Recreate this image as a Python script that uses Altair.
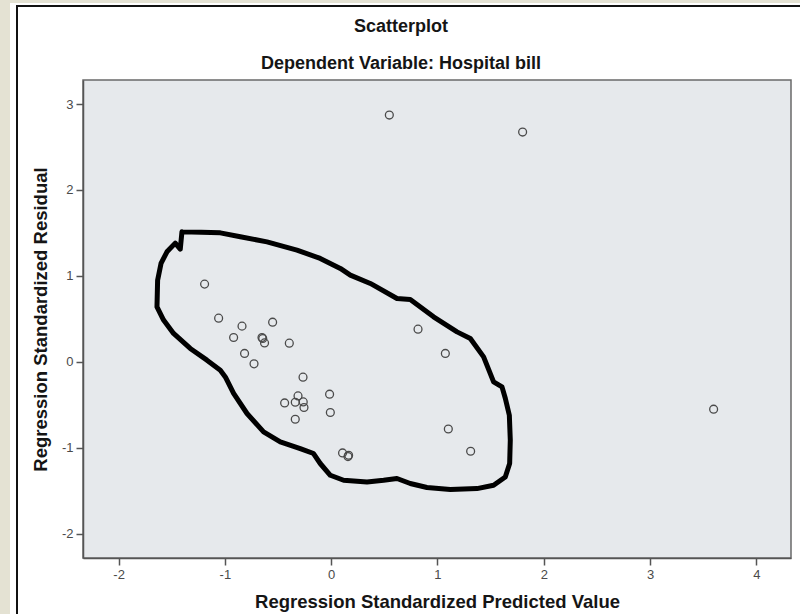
import altair as alt
import pandas as pd

# ---- data ----
x_pred = [0.547, 1.801, 3.598, -1.191, -1.059, -0.839, -0.918, -0.651, -0.644, -0.627,
          -0.551, -0.394, -0.815, -0.726, -0.265, -0.312, -0.438, -0.338, -0.263, -0.256,
          -0.338, -0.015, -0.008, 0.107, 0.164, 0.158, 0.817, 1.074, 1.102, 1.312]
y_resid = [2.872, 2.674, -0.552, 0.904, 0.508, 0.415, 0.283, 0.283, 0.271, 0.220,
           0.461, 0.217, 0.097, -0.024, -0.179, -0.397, -0.479, -0.471, -0.467, -0.532,
           -0.669, -0.377, -0.590, -1.061, -1.088, -1.103, 0.380, 0.097, -0.782, -1.041]

# hand-drawn outline (in data units)
contour_x = [-1.404, -1.043, -0.855, -0.604, -0.322, -0.103, 0.086, 0.180, 0.368, 0.619,
             0.744, 0.963, 1.184, 1.309, 1.434, 1.528, 1.607, 1.638, 1.676, 1.685,
             1.679, 1.638, 1.528, 1.372, 1.121, 0.901, 0.744, 0.619, 0.493, 0.337,
             0.117, -0.008, -0.103, -0.166, -0.291, -0.479, -0.636, -0.792, -0.918, -0.996,
             -1.043, -1.169, -1.326, -1.483, -1.577, -1.639, -1.633, -1.601, -1.545, -1.467,
             -1.420, -1.404]
contour_y = [1.513, 1.501, 1.455, 1.396, 1.300, 1.203, 1.087, 1.009, 0.912, 0.737,
             0.726, 0.523, 0.348, 0.271, 0.057, -0.234, -0.292, -0.424, -0.622, -0.913,
             -1.184, -1.341, -1.437, -1.476, -1.487, -1.464, -1.417, -1.359, -1.379, -1.399,
             -1.379, -1.321, -1.184, -1.068, -1.010, -0.933, -0.816, -0.602, -0.369, -0.176,
             -0.098, 0.019, 0.155, 0.330, 0.485, 0.639, 0.950, 1.145, 1.280, 1.381,
             1.311, 1.513]

x_ticks = [-2, -1, 0, 1, 2, 3, 4]
y_ticks = [-2, -1, 0, 1, 2, 3]
x_domain = [-2.335, 4.326]
y_domain = [-2.284, 3.28]

chart_title = ["Scatterplot"]
chart_subtitle = ["Dependent Variable: Hospital bill"]
x_title = "Regression Standardized Predicted Value"
y_title = "Regression Standardized Residual"

W, H = 708, 478
FONT = "Liberation Sans"

pts = pd.DataFrame({"x": x_pred, "y": y_resid})
cont = pd.DataFrame({"x": contour_x, "y": contour_y, "i": list(range(len(contour_x)))})
one = pd.DataFrame({"t": chart_title})
two = pd.DataFrame({"t": chart_subtitle})

xs = alt.Scale(domain=x_domain, nice=False, zero=False)
ys = alt.Scale(domain=y_domain, nice=False, zero=False)

axis_common = dict(
    grid=False, zindex=2,
    domainColor="#555", domainWidth=1.5,
    tickColor="#555", tickSize=7, tickWidth=1.5,
    labelColor="#4a4a4a", labelFont=FONT, labelFontSize=13, labelPadding=3,
    labelExpr="toString(datum.value)",
    titleFont=FONT, titleFontSize=18.5, titleFontWeight="bold", titleColor="#151515",
)
x_axis = alt.Axis(values=x_ticks, title=x_title, titlePadding=11, **axis_common)
y_axis = alt.Axis(values=y_ticks, title=y_title, titlePadding=11, **axis_common)

# decorative white panel with dark frame
panel = alt.Chart(one).mark_rect(fill="white", stroke=None).encode(
    x=alt.value(-73), x2=alt.value(900), y=alt.value(-77), y2=alt.value(700))
frame = alt.Chart(one).mark_rect(fill=None, stroke="#111", strokeWidth=2).encode(
    x=alt.value(-66), x2=alt.value(900), y=alt.value(-74), y2=alt.value(700))
plotbg = alt.Chart(one).mark_rect(fill="#e6e9ec", stroke="#6a6a6a", strokeWidth=1.5).encode(
    x=alt.value(0), x2=alt.value(W), y=alt.value(0), y2=alt.value(H))

outline = alt.Chart(cont).mark_line(color="black", strokeWidth=5, strokeJoin="round",
                                    strokeCap="round").encode(
    x=alt.X("x:Q", scale=xs, axis=x_axis),
    y=alt.Y("y:Q", scale=ys, axis=y_axis),
    order="i:Q")

points = alt.Chart(pts).mark_point(shape="circle", filled=False, size=62,
                                   stroke="#4a4a4a", strokeWidth=1.3, opacity=1).encode(
    x=alt.X("x:Q", scale=xs, axis=x_axis),
    y=alt.Y("y:Q", scale=ys, axis=y_axis))

t1 = alt.Chart(one).mark_text(font=FONT, fontSize=18, fontWeight="bold", color="#151515",
                              baseline="middle", align="center").encode(
    x=alt.value(318), y=alt.value(-53), text="t:N")
t2 = alt.Chart(two).mark_text(font=FONT, fontSize=18, fontWeight="bold", color="#151515",
                              baseline="middle", align="center").encode(
    x=alt.value(318), y=alt.value(-16), text="t:N")

chart = alt.layer(panel, frame, plotbg, outline, points, t1, t2).properties(
    width=W, height=H,
    autosize=alt.AutoSizeParams(type="none"),
    padding={"left": 83, "top": 80, "right": 9, "bottom": 56},
    background="#e4e2d3",
).configure_view(stroke=None, fill=None)

chart.save("out.html", embed_options={"renderer": "svg", "actions": False})
